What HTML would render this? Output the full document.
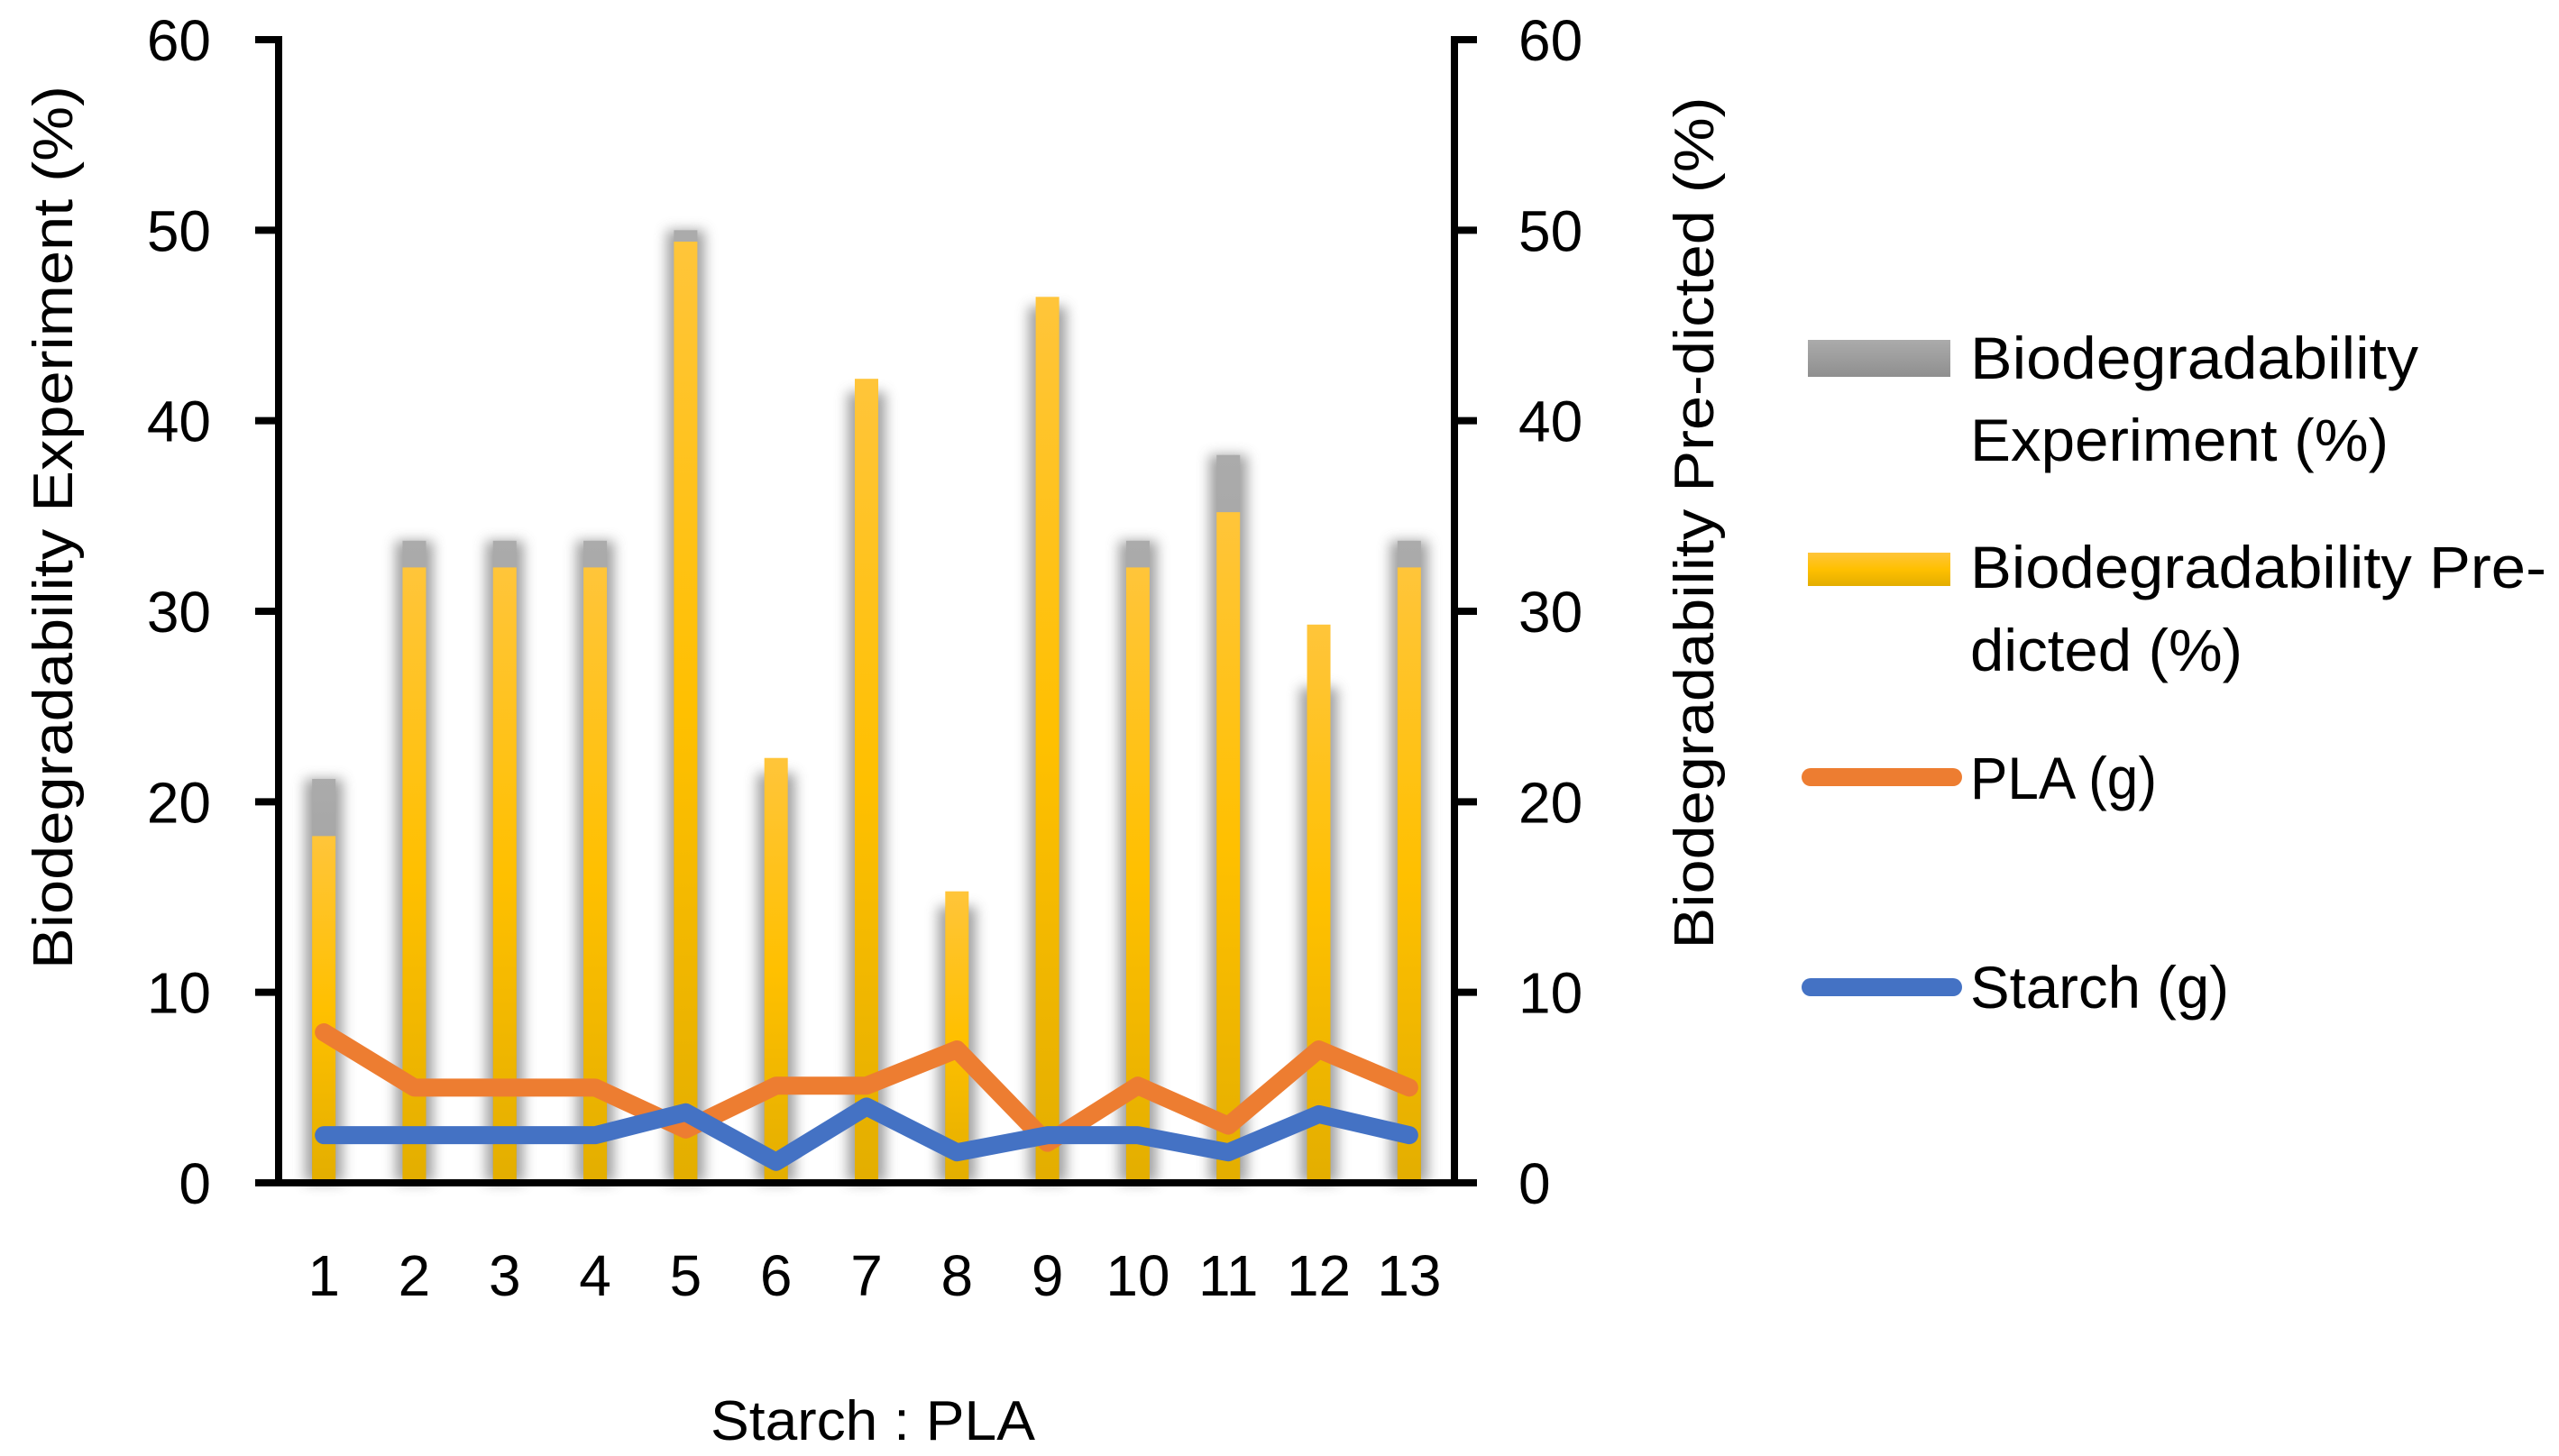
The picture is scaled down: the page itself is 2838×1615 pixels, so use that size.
<!DOCTYPE html>
<html><head><meta charset="utf-8"><style>
html,body{margin:0;padding:0;background:#fff;}
svg{display:block;font-family:"Liberation Sans",sans-serif;}
</style></head><body>
<svg id="chart" width="2838" height="1615" viewBox="0 0 2838 1615" xmlns="http://www.w3.org/2000/svg">
<defs>
<linearGradient id="gy" x1="0" y1="0" x2="0" y2="1"><stop offset="0" stop-color="#FFC53A"/><stop offset="0.5" stop-color="#FFC000"/><stop offset="1" stop-color="#E3AE00"/></linearGradient>
<linearGradient id="gg" x1="0" y1="0" x2="0" y2="1"><stop offset="0" stop-color="#ABABAB"/><stop offset="1" stop-color="#8F8F8F"/></linearGradient>
<filter id="blur" x="-100%" y="-10%" width="300%" height="120%"><feGaussianBlur stdDeviation="7"/></filter>
</defs>
<g id="bars"></g>
<g id="lines"></g>
<g id="axes"></g>
<text transform="translate(80,585) rotate(-90)" text-anchor="middle" font-size="62" textLength="980" lengthAdjust="spacingAndGlyphs">Biodegradability Experiment (%)</text>
<text transform="translate(1900,580) rotate(-90)" text-anchor="middle" font-size="62" textLength="945" lengthAdjust="spacingAndGlyphs">Biodegradability Pre-dicted (%)</text>
<text x="968" y="1597" text-anchor="middle" font-size="62" textLength="360" lengthAdjust="spacingAndGlyphs">Starch : PLA</text>
<g font-size="66">
<g>
<rect x="2005" y="377" width="158" height="41" fill="url(#gg)"/>
<text x="2185" y="420" textLength="497" lengthAdjust="spacingAndGlyphs">Biodegradability</text>
<text x="2185" y="511" textLength="464" lengthAdjust="spacingAndGlyphs">Experiment (%)</text>
</g>
<g>
<rect x="2005" y="613" width="158" height="37" fill="url(#gy)"/>
<text x="2185" y="652" textLength="639" lengthAdjust="spacingAndGlyphs">Biodegradability Pre-</text>
<text x="2185" y="744" textLength="302" lengthAdjust="spacingAndGlyphs">dicted (%)</text>
</g>
<g>
<line x1="2008" y1="862" x2="2166" y2="862" stroke="#ED7D31" stroke-width="20" stroke-linecap="round"/>
<text x="2185" y="886" textLength="207" lengthAdjust="spacingAndGlyphs">PLA (g)</text>
</g>
<g>
<line x1="2008" y1="1095" x2="2166" y2="1095" stroke="#4472C4" stroke-width="20" stroke-linecap="round"/>
<text x="2185" y="1118" textLength="287" lengthAdjust="spacingAndGlyphs">Starch (g)</text>
</g>
</g>
</svg>
<script>
const categories = ["1","2","3","4","5","6","7","8","9","10","11","12","13"];
const experiment = [21.2,33.7,33.7,33.7,50,21.5,41.5,14.5,46,33.7,38.2,26,33.7];
const predicted = [18.2,32.3,32.3,32.3,49.4,22.3,42.2,15.3,46.5,32.3,35.2,29.3,32.3];
const pla = [7.9,5.0,5.0,5.0,2.8,5.1,5.1,7.0,2.1,5.1,3.0,7.0,5.0];
const starch = [2.5,2.5,2.5,2.5,3.7,1.1,4.0,1.6,2.5,2.5,1.6,3.6,2.5];
const yTicks = [0,10,20,30,40,50,60];

const NS = "http://www.w3.org/2000/svg";
const X0 = 309, X1 = 1613, Y0 = 1312, Y1 = 44, YMAX = 60;
const step = (X1 - X0) / categories.length;
function xc(i){ return X0 + step * (i + 0.5); }
function yv(v){ return Y0 - (v / YMAX) * (Y0 - Y1); }
function mk(tag, attrs, parent){ const e = document.createElementNS(NS, tag); for (const k in attrs) e.setAttribute(k, attrs[k]); parent.appendChild(e); return e; }

const bars = document.getElementById('bars');
const BW = 26;
categories.forEach((c, i) => {
  const x = xc(i) - BW / 2;
  const sh = mk('rect', {x: x - 8, y: yv(experiment[i]), width: BW + 16, height: Y0 - yv(experiment[i]), fill: '#8a8a8a', filter: 'url(#blur)', opacity: 0.8}, bars);
  
  
  const g = mk('rect', {x: x, y: yv(experiment[i]), width: BW, height: Y0 - yv(experiment[i]), fill: 'url(#gg)'}, bars);
  
  
  const y = mk('rect', {x: x, y: yv(predicted[i]), width: BW, height: Y0 - yv(predicted[i]), fill: 'url(#gy)'}, bars);
  
  
});

const lines = document.getElementById('lines');
function drawLine(vals, color, name){
  const pts = vals.map((v, i) => xc(i) + ',' + yv(v)).join(' ');
  const p = mk('polyline', {points: pts, fill: 'none', stroke: color, 'stroke-width': 20, 'stroke-linejoin': 'round', 'stroke-linecap': 'round'}, lines);
  
  
}
drawLine(pla, '#ED7D31', 'line-pla');
drawLine(starch, '#4472C4', 'line-starch');

const axes = document.getElementById('axes');
const la = mk('line', {x1: X0, y1: Y1 - 4, x2: X0, y2: Y0 + 4, stroke: '#000', 'stroke-width': 8}, axes);


const ra = mk('line', {x1: X1, y1: Y1 - 4, x2: X1, y2: Y0 + 4, stroke: '#000', 'stroke-width': 8}, axes);


const xa = mk('line', {x1: X0, y1: Y0, x2: X1, y2: Y0, stroke: '#000', 'stroke-width': 8}, axes);


yTicks.forEach(t => {
  const y = yv(t);
  const tl = mk('line', {x1: 283, y1: y, x2: X0, y2: y, stroke: '#000', 'stroke-width': 8}, axes);
  
  
  const tr = mk('line', {x1: X1, y1: y, x2: 1638, y2: y, stroke: '#000', 'stroke-width': 8}, axes);
  
  
  const a = mk('text', {x: 234, y: y + 23, 'text-anchor': 'end', 'font-size': 64}, axes);
  a.textContent = t;
  
  
  const b = mk('text', {x: 1684, y: y + 23, 'text-anchor': 'start', 'font-size': 64}, axes);
  b.textContent = t;
  
  
});
categories.forEach((c, i) => {
  const t = mk('text', {x: xc(i), y: 1437, 'text-anchor': 'middle', 'font-size': 64}, axes);
  t.textContent = c;
  
  
});
</script>
</body></html>
